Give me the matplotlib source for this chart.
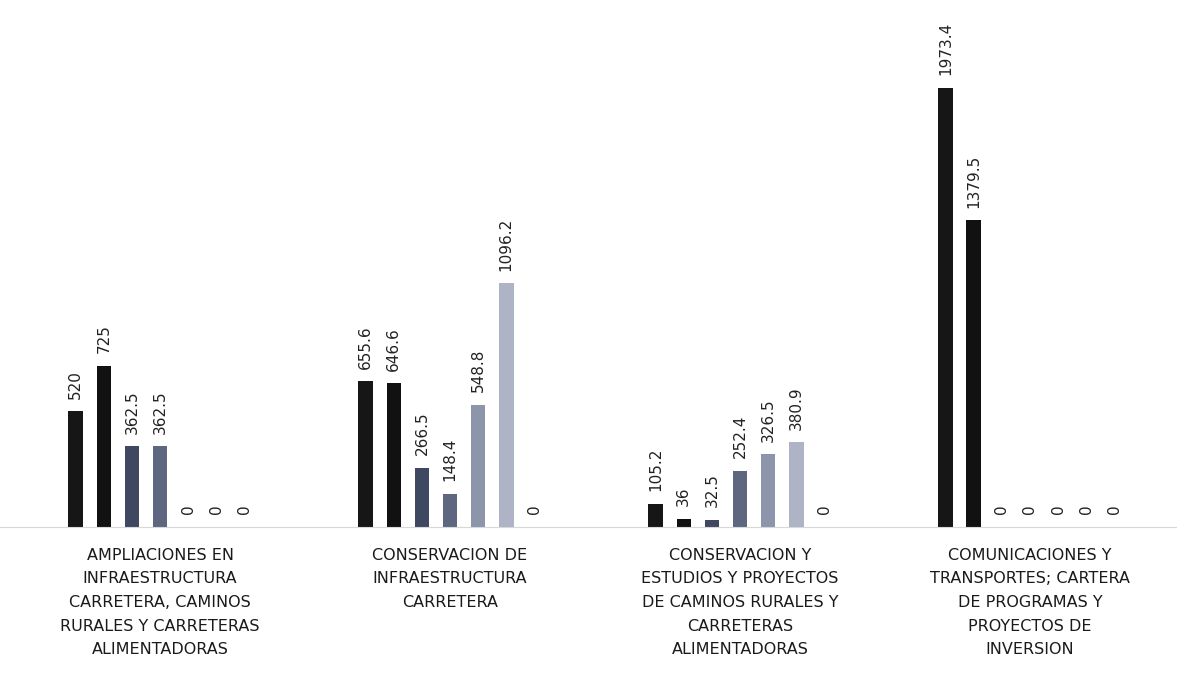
import numpy as np
import matplotlib.pyplot as plt

# categorias (eje x)
categorias = [
    "AMPLIACIONES EN\nINFRAESTRUCTURA\nCARRETERA, CAMINOS\nRURALES Y CARRETERAS\nALIMENTADORAS",
    "CONSERVACION DE\nINFRAESTRUCTURA\nCARRETERA",
    "CONSERVACION Y\nESTUDIOS Y PROYECTOS\nDE CAMINOS RURALES Y\nCARRETERAS\nALIMENTADORAS",
    "COMUNICACIONES Y\nTRANSPORTES; CARTERA\nDE PROGRAMAS Y\nPROYECTOS DE\nINVERSION",
]

# series (una por color)
serie_1 = [520, 655.6, 105.2, 1973.4]
serie_2 = [725, 646.6, 36, 1379.5]
serie_3 = [362.5, 266.5, 32.5, 0]
serie_4 = [362.5, 148.4, 252.4, 0]
serie_5 = [0, 548.8, 326.5, 0]
serie_6 = [0, 1096.2, 380.9, 0]
serie_7 = [0, 0, 0, 0]

series = [serie_1, serie_2, serie_3, serie_4, serie_5, serie_6, serie_7]
colores = ["#161616", "#111111", "#3e4860", "#5d6880", "#8c95aa", "#aeb4c6", "#cdd1dc"]

fig = plt.figure(figsize=(11.77, 6.87), dpi=100)
ax = fig.add_axes([0, 0.233, 1, 0.767])

x = np.arange(len(categorias))
paso = 0.097
ancho = 0.05
for i, s in enumerate(series):
    pos = x + (i - 3) * paso
    barras = ax.bar(pos, s, width=ancho, color=colores[i])
    ax.bar_label(barras, labels=["%g" % v for v in s], rotation=90,
                 padding=9, fontsize=11, color="#222222")

ax.set_xlim(-0.552, 3.507)
ax.set_ylim(0, 2369)
ax.set_yticks([])
ax.set_xticks(x)
ax.set_xticklabels(categorias, fontsize=11.5, color="#1a1a1a")
for lbl in ax.get_xticklabels():
    lbl.set_linespacing(1.72)
ax.tick_params(axis="x", length=0, pad=15)
for lado in ["top", "right", "left"]:
    ax.spines[lado].set_visible(False)
ax.spines["bottom"].set_color("#d8d8d8")
ax.spines["bottom"].set_linewidth(0.8)
ax.patch.set_alpha(0)

plt.savefig("out.png")
